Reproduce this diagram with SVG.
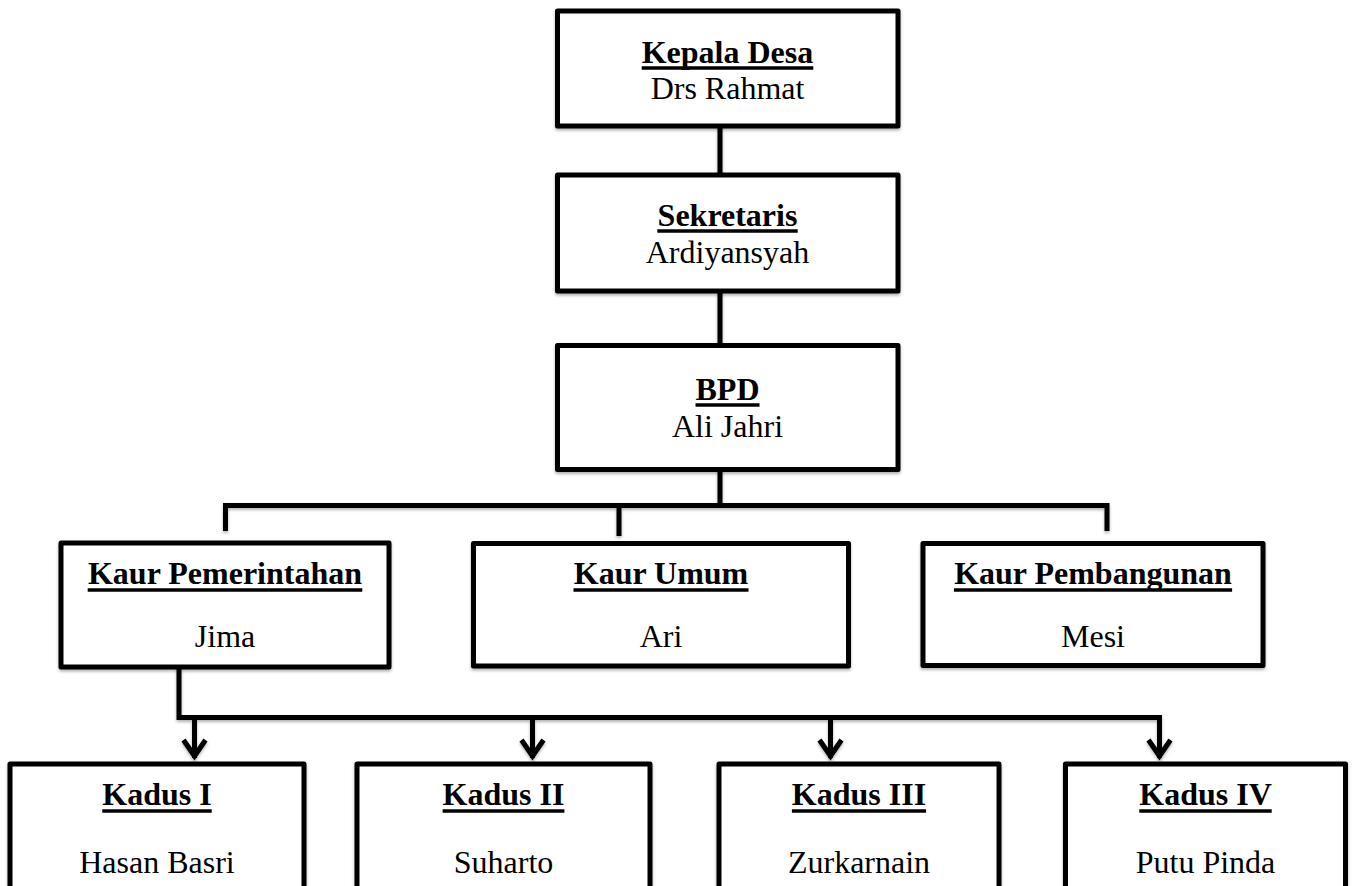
<svg xmlns="http://www.w3.org/2000/svg" width="1353" height="886" viewBox="0 0 1353 886">
<style>
.box{fill:#fff;stroke:#000;stroke-width:5;stroke-linejoin:round;filter:url(#sh)}
.t{font-family:"Liberation Serif","Times New Roman",serif;font-size:32px;fill:#000;text-anchor:middle}
.b{font-weight:bold}
.ul{stroke:#000;stroke-width:3.5}
.c{fill:none;stroke:#000;stroke-width:5;stroke-linejoin:miter}
</style>
<defs>
<filter id="sh" x="-10%" y="-10%" width="120%" height="130%">
<feDropShadow dx="0" dy="2" stdDeviation="1.5" flood-color="#000" flood-opacity="0.3"/>
</filter>
</defs>
<rect width="1353" height="886" fill="#fff"/>
<g id="connectors" filter="url(#sh)">
<path class="c" d="M720 126V175M720 291V345.5M720 469.5V505.5M225.5 531V505.5H1107V531M619 505.5V536"/>
<path class="c" d="M179 667V717.5H1159.5V758M194.5 717.5V758M532.5 717.5V758M830.5 717.5V758"/>
<path class="c" d="M183.5 740L194.5 756L205.5 740M521.5 740L532.5 756L543.5 740M819.5 740L830.5 756L841.5 740M1148.5 740L1159.5 756L1170.5 740"/>
</g>
<g id="kepala-desa">
<rect class="box" x="557.5" y="11" width="340.5" height="115"/>
<text class="t b" x="727.5" y="63">Kepala Desa</text>
<line class="ul" x1="641.7" y1="68" x2="813.3" y2="68"/>
<text class="t" x="727.5" y="99">Drs Rahmat</text>
</g>
<g id="sekretaris">
<rect class="box" x="557.5" y="175" width="340.5" height="116"/>
<text class="t b" x="727.5" y="226">Sekretaris</text>
<line class="ul" x1="657.3" y1="231" x2="797.7" y2="231"/>
<text class="t" x="727.5" y="263">Ardiyansyah</text>
</g>
<g id="bpd">
<rect class="box" x="557.5" y="345.5" width="340.5" height="124"/>
<text class="t b" x="727.5" y="400">BPD</text>
<line class="ul" x1="695.5" y1="405" x2="759.5" y2="405"/>
<text class="t" x="727.5" y="437">Ali Jahri</text>
</g>
<g id="kaur-pemerintahan">
<rect class="box" x="61" y="543" width="328" height="124"/>
<text class="t b" x="225" y="584">Kaur Pemerintahan</text>
<line class="ul" x1="87.7" y1="590" x2="362.3" y2="590"/>
<text class="t" x="225" y="647">Jima</text>
</g>
<g id="kaur-umum">
<rect class="box" x="473.5" y="543.5" width="375" height="122.5"/>
<text class="t b" x="661" y="584">Kaur Umum</text>
<line class="ul" x1="573.5" y1="590" x2="748.5" y2="590"/>
<text class="t" x="661" y="647">Ari</text>
</g>
<g id="kaur-pembangunan">
<rect class="box" x="923" y="543.5" width="340" height="122"/>
<text class="t b" x="1093" y="584">Kaur Pembangunan</text>
<line class="ul" x1="953.9" y1="590" x2="1232.1" y2="590"/>
<text class="t" x="1093" y="647">Mesi</text>
</g>
<g id="kadus-1">
<rect class="box" x="10" y="764" width="294" height="200"/>
<text class="t b" x="157" y="805">Kadus I</text>
<line class="ul" x1="102.3" y1="811" x2="211.7" y2="811"/>
<text class="t" x="157" y="873">Hasan Basri</text>
</g>
<g id="kadus-2">
<rect class="box" x="357" y="764" width="293" height="200"/>
<text class="t b" x="503.5" y="805">Kadus II</text>
<line class="ul" x1="442.6" y1="811" x2="564.4" y2="811"/>
<text class="t" x="503.5" y="873">Suharto</text>
</g>
<g id="kadus-3">
<rect class="box" x="719" y="764" width="280" height="200"/>
<text class="t b" x="859" y="805">Kadus III</text>
<line class="ul" x1="791.9" y1="811" x2="926.1" y2="811"/>
<text class="t" x="859" y="873">Zurkarnain</text>
</g>
<g id="kadus-4">
<rect class="box" x="1065.5" y="764" width="280" height="200"/>
<text class="t b" x="1205.5" y="805">Kadus IV</text>
<line class="ul" x1="1139.3" y1="811" x2="1271.7" y2="811"/>
<text class="t" x="1205.5" y="873">Putu Pinda</text>
</g>
</svg>
